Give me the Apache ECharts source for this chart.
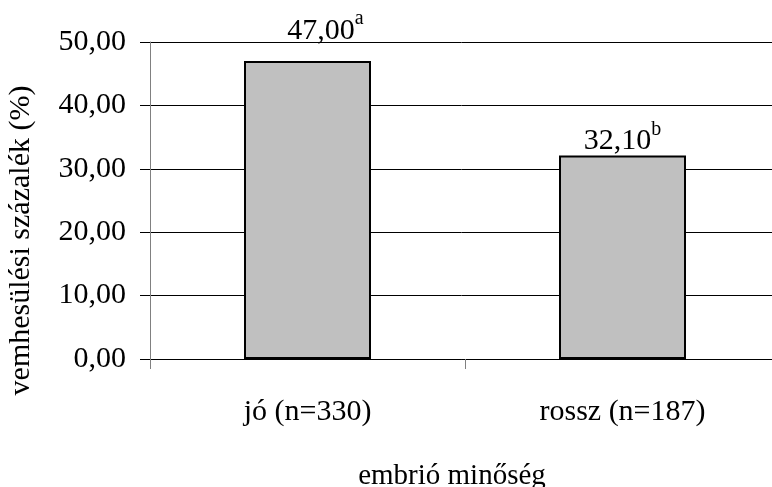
<!DOCTYPE html>
<html>
<head>
<meta charset="utf-8">
<script src="https://cdn.jsdelivr.net/npm/echarts@6/dist/echarts.min.js"></script>
<style>
  html, body { margin: 0; padding: 0; background: #fff; }
  #chart { width: 772px; height: 487px; }
</style>
</head>
<body>
<div id="chart"></div>
<script>
// Pregnancy rate by embryo quality
const categories = ['jó (n=330)', 'rossz (n=187)'];
const rates = [47.00, 32.10];
const rateLetters = ['a', 'b'];
const yTickLabels = ['0,00', '10,00', '20,00', '30,00', '40,00', '50,00'];

const FONT = '"Liberation Serif", "Times New Roman", serif';

// per-bar label placement (the first label sits higher and a bit to the right)
const labelDistance = [15, -1];
const labelOffset = [[18, 0], [0, 0]];

const barData = rates.map(function (v, i) {
  return {
    value: v,
    label: { distance: labelDistance[i], offset: labelOffset[i] }
  };
});

const chart = echarts.init(document.getElementById('chart'), null, { renderer: 'canvas' });

chart.setOption({
  backgroundColor: '#ffffff',
  animation: false,
  textStyle: { fontFamily: FONT, color: '#000' },
  grid: {
    left: 150, top: 42, width: 630, height: 317,
    containLabel: false, outerBoundsMode: 'none'
  },
  xAxis: {
    type: 'category',
    data: categories,
    name: 'embrió minőség',
    nameLocation: 'middle',
    nameGap: 103,
    nameTextStyle: { fontFamily: FONT, fontSize: 29, color: '#000', padding: [0, 26, 0, 0] },
    axisLine: { lineStyle: { color: '#000', width: 1 } },
    axisTick: { show: true, length: 10, lineStyle: { color: '#808080' } },
    axisLabel: { fontFamily: FONT, fontSize: 30, color: '#000', margin: 38 },
    splitLine: { show: false }
  },
  yAxis: {
    type: 'value',
    min: 0,
    max: 50,
    interval: 10,
    name: 'vemhesülési százalék (%)',
    nameLocation: 'middle',
    nameRotate: 90,
    nameGap: 114,
    nameTextStyle: { fontFamily: FONT, fontSize: 30, color: '#000', padding: [0, 80, 0, 0] },
    axisLine: { show: true, lineStyle: { color: '#808080', width: 1 } },
    axisTick: { show: true, inside: false, length: 10, lineStyle: { color: '#000' } },
    axisLabel: {
      fontFamily: FONT, fontSize: 30, color: '#000', margin: 24,
      formatter: function (v) { return yTickLabels[Math.round(v / 10)]; }
    },
    splitLine: { show: true, lineStyle: { color: '#000', width: 1 } }
  },
  series: [{
    type: 'bar',
    data: barData,
    barWidth: 127,
    itemStyle: { color: '#c0c0c0', borderColor: '#000', borderWidth: 2 },
    label: {
      show: true,
      position: 'top',
      formatter: function (p) {
        const txt = p.value.toFixed(2).replace('.', ',');
        return '{v|' + txt + '}{s|' + rateLetters[p.dataIndex] + '}';
      },
      rich: {
        v: { fontFamily: FONT, fontSize: 30, color: '#000', verticalAlign: 'bottom' },
        s: { fontFamily: FONT, fontSize: 20, color: '#000', verticalAlign: 'bottom', padding: [0, 0, 17, 0] }
      }
    }
  }]
});
</script>
</body>
</html>
